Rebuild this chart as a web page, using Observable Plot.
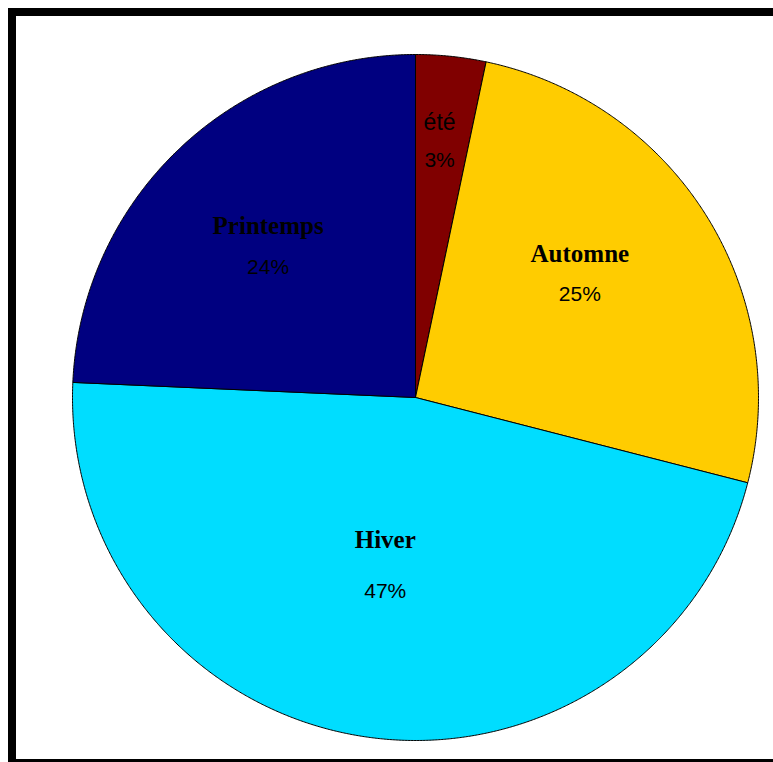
<!DOCTYPE html>
<html>
<head>
<meta charset="utf-8">
<script src="https://cdn.jsdelivr.net/npm/d3@7"></script>
<script src="https://cdn.jsdelivr.net/npm/@observablehq/plot@0.6"></script>
<style>
  html, body { margin: 0; padding: 0; background: #ffffff; overflow: hidden; width: 773px; height: 762px; }
  #chart { position: absolute; left: 0; top: 0; width: 773px; height: 762px; }
  #chart svg { background: transparent; display: block; }
  .bar { position: absolute; background: #000; pointer-events: none; }
</style>
</head>
<body>
<div id="chart"></div>
<div class="bar" style="left:8px; top:8px; width:765px; height:8px;"></div>
<div class="bar" style="left:8px; top:8px; width:8px; height:754px;"></div>
<div class="bar" style="left:8px; top:759px; width:765px; height:3px;"></div>
<script>
// Data, clockwise from 12 o'clock
const categories = ["été", "Automne", "Hiver", "Printemps"];
const values = [3.3, 25.7, 46.7, 24.3];
const pctLabels = ["3%", "25%", "47%", "24%"];
const colors = ["#800000", "#FFCC00", "#00DDFF", "#000080"];

// Label layout (styling): radius fraction, angle nudge (deg), gap between name and % baselines (px)
const layout = {
  "été":      {r: 0.728, da: -0.4, gap: 37, nameFont: 23},
  "Automne":  {r: 0.586, da: -3.3, gap: 39, nameFont: 25},
  "Hiver":    {r: 0.52,  da: 1.3,  gap: 50, nameFont: 25},
  "Printemps":{r: 0.600, da: -2.0, gap: 40, nameFont: 25}
};
const pctFont = 21;
const W = 773, H = 762;
const R = 343; // px radius
const margins = {left: 72, right: 15, top: 54, bottom: 22};

const total = d3.sum(values);
let acc = 0;
const slices = categories.map((c, i) => {
  const a0 = acc / total * 360;
  acc += values[i];
  const a1 = acc / total * 360;
  return {cat: c, a0, a1, value: values[i], pct: pctLabels[i]};
});

const rad = d => d * Math.PI / 180;
// polygon points for each slice (geometry of the wedge)
const pts = [];
for (const s of slices) {
  pts.push({cat: s.cat, x: 0, y: 0});
  const n = Math.max(2, Math.ceil((s.a1 - s.a0) / 0.25));
  for (let k = 0; k <= n; k++) {
    const a = rad(s.a0 + (s.a1 - s.a0) * k / n);
    pts.push({cat: s.cat, x: Math.sin(a), y: Math.cos(a)});
  }
  pts.push({cat: s.cat, x: 0, y: 0});
}

// labels
const nameRows = [], pctRows = [];
for (const s of slices) {
  const L = layout[s.cat];
  const a = rad((s.a0 + s.a1) / 2 + L.da);
  const ax = L.r * Math.sin(a), ay = L.r * Math.cos(a);
  const nameY = ay + (L.gap / 2 + 0.32 * L.nameFont) / R;
  const pctY = ay - (L.gap / 2 - 0.32 * pctFont) / R;
  nameRows.push({cat: s.cat, x: ax, y: nameY, text: s.cat});
  pctRows.push({cat: s.cat, x: ax, y: pctY, text: s.pct});
}

const plot = Plot.plot({
  width: W,
  height: H,
  marginLeft: margins.left,
  marginRight: margins.right,
  marginTop: margins.top,
  marginBottom: margins.bottom,
  x: {domain: [-1, 1], axis: null},
  y: {domain: [-1, 1], axis: null},
  color: {domain: categories, range: colors},
  marks: [
    Plot.line(pts, {x: "x", y: "y", z: "cat", fill: "cat", stroke: "#000", strokeWidth: 1, curve: "linear"}),
    Plot.text(nameRows.filter(d => d.cat !== "été"), {x: "x", y: "y", text: "text", fill: "#000",
      fontFamily: "'Liberation Serif', 'Times New Roman', serif", fontWeight: "bold", fontSize: 25, textAnchor: "middle"}),
    Plot.text(nameRows.filter(d => d.cat === "été"), {x: "x", y: "y", text: "text", fill: "#000",
      fontFamily: "'Liberation Sans', Arial, sans-serif", fontSize: 23, textAnchor: "middle"}),
    Plot.text(pctRows, {x: "x", y: "y", text: "text", fill: "#000",
      fontFamily: "'Liberation Sans', Arial, sans-serif", fontSize: pctFont, textAnchor: "middle"})
  ]
});
document.getElementById("chart").appendChild(plot);
</script>
</body>
</html>
